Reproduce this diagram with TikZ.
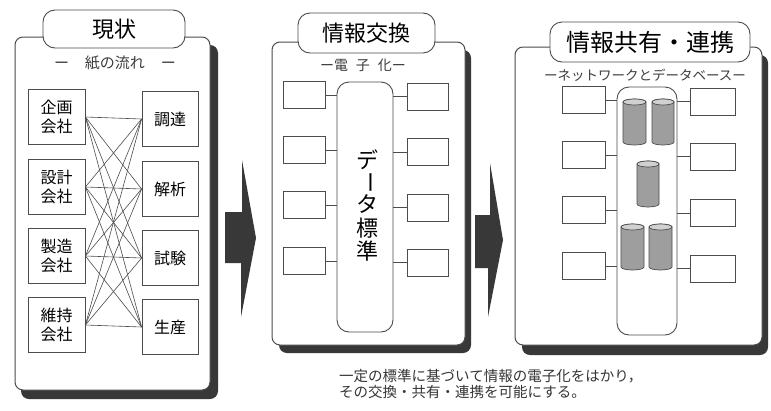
\documentclass[tikz,border=0pt]{standalone}
\usepackage{fontspec}
\setmainfont{Noto Sans CJK JP}
\definecolor{ink}{gray}{0.3}
\definecolor{shade}{gray}{0.22}
\definecolor{dbfill}{gray}{0.62}
\definecolor{dbtop}{gray}{0.82}
\newcommand{\dbcyl}[4]{%
  \draw[ink, line width=0.7pt, fill=dbfill] (#1,#3) -- (#1,#4)
     arc[start angle=180, end angle=0, x radius={(#2-#1)/2}, y radius=3]
     -- (#2,#3) arc[start angle=0, end angle=-180, x radius={(#2-#1)/2}, y radius=3] -- cycle;
  \draw[ink, line width=0.7pt, fill=dbtop] ({(#1+#2)/2},#3) ellipse[x radius={(#2-#1)/2}, y radius=3];
}
\begin{document}
\begin{tikzpicture}[x=1pt, y=-1pt,
  panel/.style={draw=ink, line width=1pt, fill=white, rounded corners=8pt},
  shadowbox/.style={fill=shade, rounded corners=8pt},
  titlebox/.style={draw=ink, line width=0.9pt, fill=white, rounded corners=12pt, inner sep=0pt},
  cbox/.style={draw=ink, line width=0.8pt, fill=white, inner sep=0pt, align=center, font=\fontsize{16}{19}\selectfont},
  sbox/.style={draw=ink, line width=0.8pt, fill=white, inner sep=0pt},
  hub/.style={draw=ink, line width=0.9pt, fill=white, rounded corners=12pt, inner sep=0pt},
  link/.style={draw=ink, line width=0.6pt},
  bigarrow/.style={fill=shade},
  sub/.style={font=\fontsize{14}{16}\selectfont, text=ink!80!black},
  vchar/.style={font=\fontsize{22}{24}\selectfont, inner sep=0pt}
]
\useasboundingbox (0,0) rectangle (771,410);
\fill[white] (0,0) rectangle (771,410);

% ---------- Panel 1 ----------
\path[shadowbox] (21,45) rectangle (218,399);
\node[panel, minimum width=195pt, minimum height=353pt] (p1) at (112.5,213.5) {};
\node[titlebox, minimum width=142pt, minimum height=38pt, font=\fontsize{22}{24}\selectfont] (t1) at (114,29) {現状};
\node[sub, font=\fontsize{15}{17}\selectfont] (s1) at (115,63) {ー\hspace{16pt}紙の流れ\hspace{16pt}ー};

\node[cbox, minimum width=57pt, minimum height=55pt] (a1) at (56.5,117) {企画\\会社};
\node[cbox, minimum width=57pt, minimum height=55pt] (a2) at (56.5,187) {設計\\会社};
\node[cbox, minimum width=57pt, minimum height=55pt] (a3) at (56.5,256) {製造\\会社};
\node[cbox, minimum width=57pt, minimum height=55pt] (a4) at (56.5,325) {維持\\会社};
\node[cbox, minimum width=56pt, minimum height=55pt] (b1) at (170,119) {調達};
\node[cbox, minimum width=56pt, minimum height=55pt] (b2) at (170,189) {解析};
\node[cbox, minimum width=56pt, minimum height=55pt] (b3) at (170,258) {試験};
\node[cbox, minimum width=56pt, minimum height=55pt] (b4) at (170,327) {生産};
\foreach \i in {1,...,4}{
  \foreach \j in {1,...,4}{
    \draw[link] (a\i.east) -- (b\j.west);
  }
}

% ---------- Arrow 1 ----------
\fill[bigarrow] (225,212) -- (242,212) -- (242,160) -- (256,238) -- (241,317) -- (241,263) -- (225,263) -- cycle;

% ---------- Panel 2 ----------
\path[shadowbox] (279,50) rectangle (471,353);
\node[panel, minimum width=193pt, minimum height=303pt] (p2) at (368.5,193.5) {};
\node[titlebox, minimum width=137pt, minimum height=40pt, font=\fontsize{22}{24}\selectfont] (t2) at (366.5,33) {情報交換};
\node[sub] (s2) at (363,65) {ー電\hspace{8pt}子\hspace{8pt}化ー};

\node[hub, minimum width=56pt, minimum height=250pt] (c2) at (365,207) {};
\node[vchar] (v1) at (367,160) {デ};
\node[vchar, rotate=-90] (v2) at (367,182) {ー};
\node[vchar] (v3) at (367,204) {タ};
\node[vchar] (v4) at (367,228) {標};
\node[vchar] (v5) at (367,251) {準};

\node[sbox, minimum width=42pt, minimum height=27pt] (l21) at (304,95) {};
\node[sbox, minimum width=42pt, minimum height=27pt] (l22) at (304,150) {};
\node[sbox, minimum width=42pt, minimum height=27pt] (l23) at (304,205) {};
\node[sbox, minimum width=42pt, minimum height=27pt] (l24) at (304,261) {};
\node[sbox, minimum width=41pt, minimum height=27pt] (r21) at (427.5,96.5) {};
\node[sbox, minimum width=41pt, minimum height=27pt] (r22) at (427.5,152) {};
\node[sbox, minimum width=41pt, minimum height=27pt] (r23) at (427.5,207.5) {};
\node[sbox, minimum width=41pt, minimum height=27pt] (r24) at (427.5,262.5) {};
\foreach \i in {1,...,4}{
  \draw[link] (l2\i.east) -- (l2\i.east -| c2.west);
  \draw[link] (r2\i.west) -- (r2\i.west -| c2.east);
}

% ---------- Arrow 2 ----------
\fill[bigarrow] (475,215) -- (490,215) -- (490,163) -- (503,240) -- (488,317) -- (488,268) -- (475,268) -- cycle;

% ---------- Panel 3 ----------
\path[shadowbox] (522,55) rectangle (768,355);
\node[panel, minimum width=247pt, minimum height=298pt] (p3) at (638.5,196) {};
\node[titlebox, minimum width=200pt, minimum height=40pt, font=\fontsize{24}{26}\selectfont] (t3) at (650,42) {情報共有・連携};
\node[sub, font=\fontsize{13.5}{15}\selectfont] (s3) at (645,75) {ーネットワークとデータベースー};

\node[hub, minimum width=60pt, minimum height=248pt] (c3) at (647,211) {};
\dbcyl{623}{646}{102}{142}
\dbcyl{652}{674}{102}{142}
\dbcyl{637}{659}{164}{204}
\dbcyl{621}{644}{227}{267}
\dbcyl{649}{672}{227}{267}

\node[sbox, minimum width=43pt, minimum height=27pt] (l31) at (583.5,100) {};
\node[sbox, minimum width=43pt, minimum height=27pt] (l32) at (583.5,155) {};
\node[sbox, minimum width=43pt, minimum height=27pt] (l33) at (583.5,210) {};
\node[sbox, minimum width=43pt, minimum height=27pt] (l34) at (583.5,266) {};
\node[sbox, minimum width=45pt, minimum height=27pt] (r31) at (712.5,101.5) {};
\node[sbox, minimum width=45pt, minimum height=27pt] (r32) at (712.5,156.5) {};
\node[sbox, minimum width=45pt, minimum height=27pt] (r33) at (712.5,213) {};
\node[sbox, minimum width=45pt, minimum height=27pt] (r34) at (712.5,268.5) {};
\foreach \i in {1,...,4}{
  \draw[link] (l3\i.east) -- (l3\i.east -| c3.west);
  \draw[link] (r3\i.west) -- (r3\i.west -| c3.east);
}

% ---------- Caption ----------
\node[anchor=north west, align=left, inner sep=0pt, text=ink!70!black,
      font=\fontsize{14.5}{16.5}\selectfont] (cap) at (339,369)
  {一定の標準に基づいて情報の電子化をはかり，\\その交換・共有・連携を可能にする。};
\end{tikzpicture}
\end{document}
